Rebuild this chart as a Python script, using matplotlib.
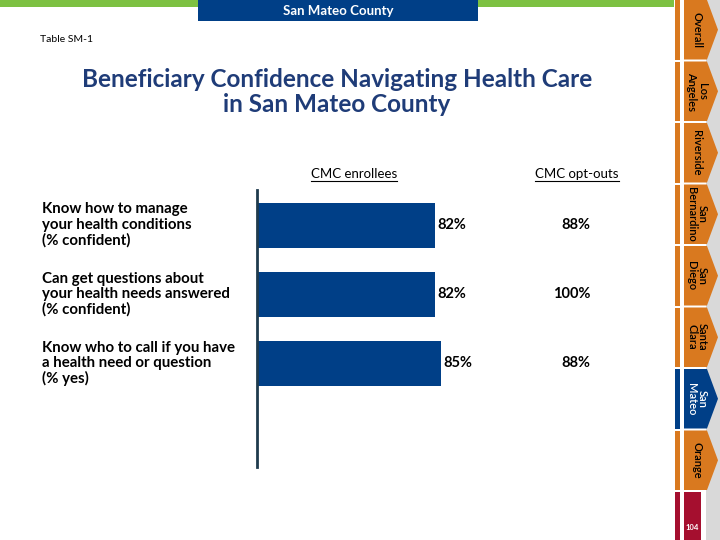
import matplotlib.pyplot as plt
from matplotlib.patches import Rectangle, Polygon
from matplotlib.lines import Line2D

plt.rcParams['font.family'] = ['Lato', 'DejaVu Sans']

# data
questions = [
    "Know how to manage\nyour health conditions\n(% confident)",
    "Can get questions about\nyour health needs answered\n(% confident)",
    "Know who to call if you have\na health need or question\n(% yes)",
]
enrollees = [82, 82, 85]
optouts = [88, 100, 88]
tabs = ["Overall", "Los\nAngeles", "Riverside", "San\nBernardino", "San\nDiego",
        "Santa\nClara", "San\nMateo", "Orange"]
active_tab = "San\nMateo"
page_no = "104"

NAVY = "#003f87"
ORANGE = "#d9791f"
RED = "#a50f2f"
GREEN = "#7dc142"
TITLE = "#1f3c78"

fig = plt.figure(figsize=(7.2, 5.4), dpi=100)

# background / decoration layer in pixel coords
bg = fig.add_axes([0, 0, 1, 1], zorder=0)
bg.set_xlim(0, 720)
bg.set_ylim(540, 0)
bg.axis("off")

bg.add_patch(Rectangle((0, 0), 674, 7, color=GREEN, lw=0))
bg.add_patch(Rectangle((198, 0), 280, 21, color=NAVY, lw=0))
bg.text(338, 11, "San Mateo County", color="white", fontsize=9.5, fontweight="bold",
        ha="center", va="center")
bg.text(40, 40, "Table SM-1", fontsize=7.5, ha="left", va="center")

# side navigation tabs
bg.add_patch(Rectangle((706, 0), 14, 540, color="#d9d9d9", lw=0))
step = 61.5
for i, name in enumerate(tabs):
    top = i * step
    bot = top + step - 2
    col = NAVY if name == active_tab else ORANGE
    bg.add_patch(Rectangle((674.5, top), 5, bot - top, color=col, lw=0))
    bg.add_patch(Polygon([(684, top), (707, top), (718, (top + bot) / 2),
                          (707, bot), (684, bot)], closed=True, color=col, lw=0))
    bg.text(697, (top + bot) / 2, name, rotation=270, ha="center", va="center",
            fontsize=8, fontweight="semibold", linespacing=0.95,
            color="white" if name == active_tab else "black")
top = len(tabs) * step
bg.add_patch(Rectangle((674.5, top), 5, 540 - top, color=RED, lw=0))
bg.add_patch(Rectangle((684, top), 17, 540 - top, color=RED, lw=0))
bg.text(692.5, 527, page_no, color="white", fontsize=5.5, fontweight="bold",
        ha="center", va="center")

# title
bg.text(337, 92, "Beneficiary Confidence Navigating Health Care\nin San Mateo County",
        ha="center", va="center", fontsize=17.5, fontweight="bold", color=TITLE,
        linespacing=1.1)

# bar chart
ax = fig.add_axes([257 / 720, 1 - 467 / 540, 217 / 720, 277 / 540], zorder=2)
ax.patch.set_alpha(0)
y = range(len(questions))
ax.barh(y, enrollees, height=0.65, color=NAVY)
ax.set_xlim(0, 100)
ax.set_ylim(3.5, -0.51)
for s in ["top", "right", "bottom"]:
    ax.spines[s].set_visible(False)
ax.spines["left"].set_color("#1f3b4d")
ax.spines["left"].set_linewidth(2)
ax.set_xticks([])
ax.set_yticks([])

for i, (q, e, o) in enumerate(zip(questions, enrollees, optouts)):
    ax.text(e + 1, i, f"{e}%", ha="left", va="center", fontsize=10.5, fontweight="bold")
    ax.text(1.535, i, f"{o}%", transform=ax.get_yaxis_transform(), ha="right",
            va="center", fontsize=10.5, fontweight="bold", clip_on=False)
    ax.text(-215 / 217, i - 0.33, q, transform=ax.get_yaxis_transform(), ha="left",
            va="top", fontsize=10.8, fontweight="bold", linespacing=1.12, clip_on=False)

# column headers with underline
heads = [bg.text(354, 174, "CMC enrollees", ha="center", va="center", fontsize=9.5),
         bg.text(577, 174, "CMC opt-outs", ha="center", va="center", fontsize=9.5)]
fig.canvas.draw()
r = fig.canvas.get_renderer()
for h in heads:
    bb = h.get_window_extent(r)
    yy = 540 - bb.y0 + 1
    bg.add_line(Line2D([bb.x0, bb.x1], [yy, yy], color="black", lw=0.8))

fig.savefig("out.png", dpi=100)
